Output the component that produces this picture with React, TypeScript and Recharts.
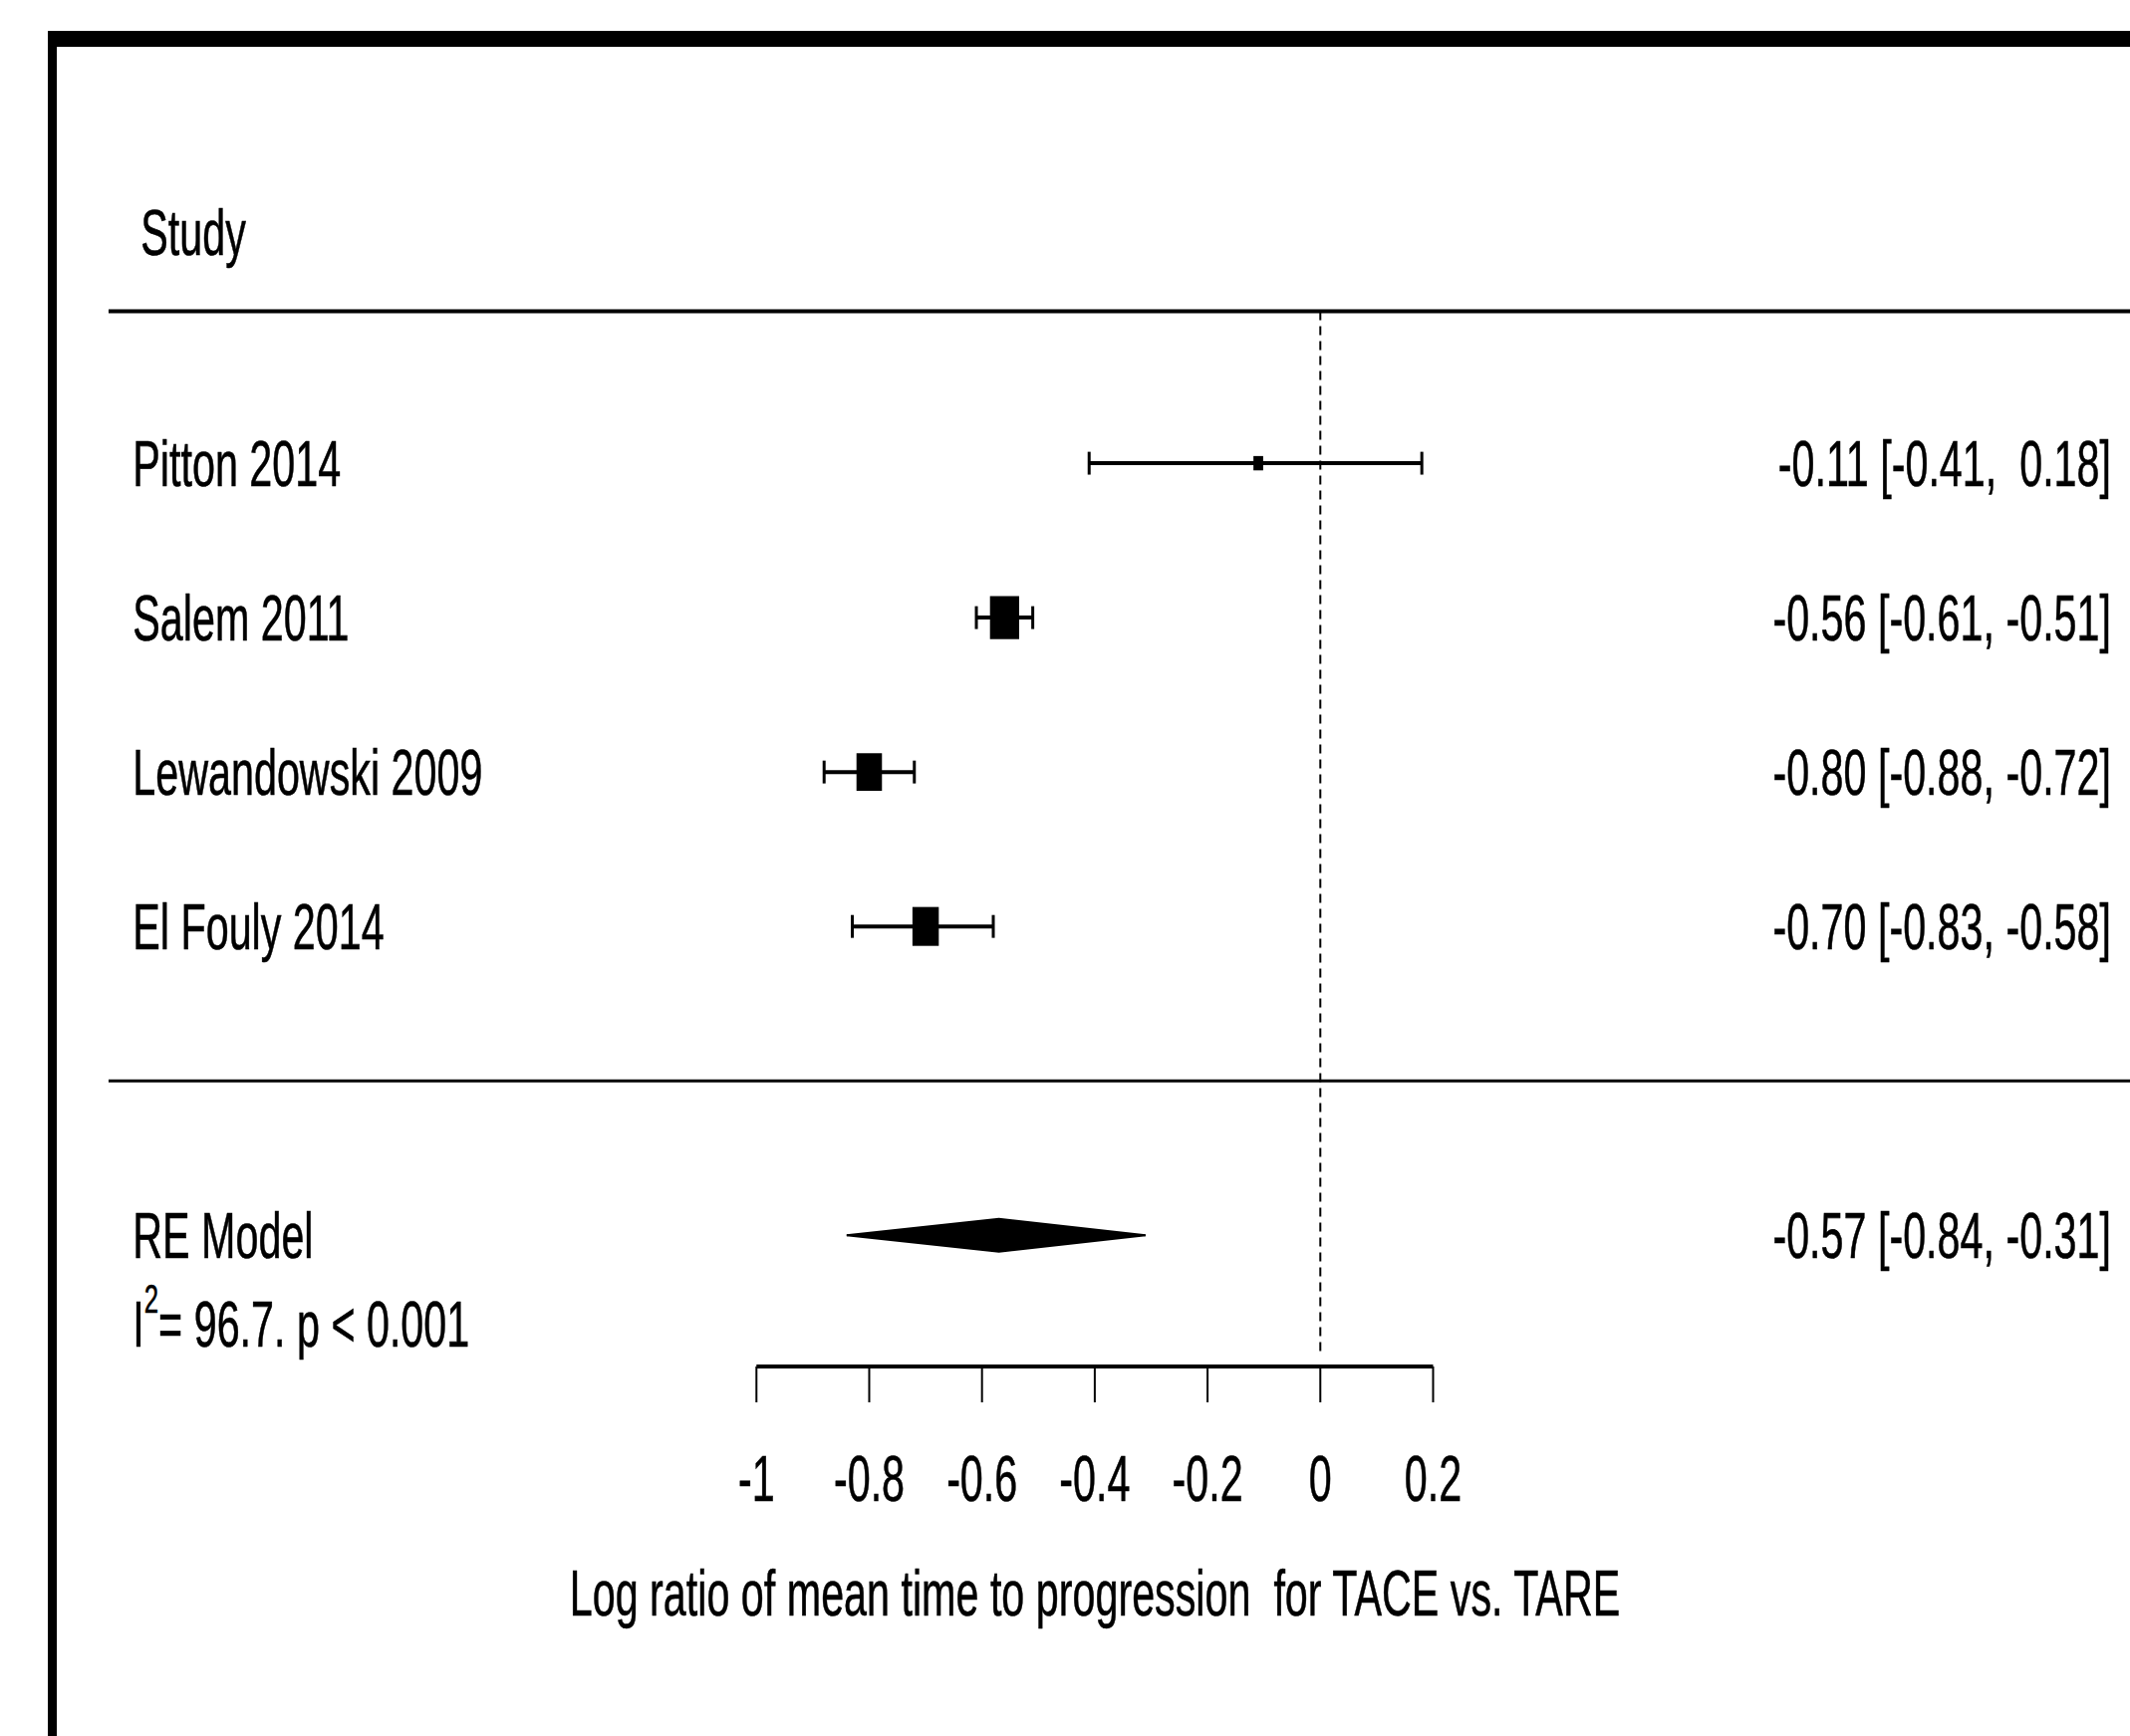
import React from 'react';
import { ComposedChart, XAxis, YAxis, Scatter, Area, ReferenceLine } from 'recharts';

// study level results (log ratio of mean TTP, TACE vs TARE)
const studies = ['Pitton 2014', 'Salem 2011', 'Lewandowski 2009', 'El Fouly 2014'];
const studyRows = [4, 3, 2, 1];
const estimates = [-0.11, -0.56, -0.8, -0.7];
const ciLower = [-0.41, -0.61, -0.88, -0.83];
const ciUpper = [0.18, -0.51, -0.72, -0.58];
const weights = [13.0, 31.0, 27.6, 28.4];

// random effects summary
const summaryLabel = 'RE Model';
const summaryRow = -1;
const summaryEstimate = -0.57;
const summaryLower = -0.84;
const summaryUpper = -0.31;
const hetI2 = '96.7';
const hetP = '< 0.001';

const headerLabel = 'Study';
const xTicks = [-1, -0.8, -0.6, -0.4, -0.2, 0, 0.2];
const xTickLabels = ['-1', '-0.8', '-0.6', '-0.4', '-0.2', '0', '0.2'];
const xTitle = 'Log ratio of mean time to progression  for TACE vs. TARE';

// layout
const W = 2138;
const H = 1743;
const X_DOMAIN: [number, number] = [-2.2355, 1.4359];
const Y_DOMAIN: [number, number] = [-1.85, 7.0];
const LABEL_X = -2.106;
const HEADER_X = -2.092;
const ANNOT_X = 1.4023;
const RULE_X = -2.149;
const HEADER_ROW = 5.5;
const HEADER_RULE = 4.985;
const HET_ROW = -1.573;
const DASH_BOTTOM = -1.785;
const CAP = 0.074;
const FONT = '"Liberation Sans", Arial, sans-serif';
const FS = 64;
const SX = 0.645;

const fmt = (v: number) => v.toFixed(2).padStart(5, ' ');
const ciText = (e: number, lo: number, hi: number) => `${fmt(e)} [${fmt(lo)}, ${fmt(hi)}]`;

const boxData = studies.map((s, i) => ({ x: estimates[i], y: studyRows[i], w: weights[i] }));

const diamondHalf = 0.106;
const diamondData = [
  { x: summaryLower, band: [summaryRow, summaryRow] },
  { x: summaryEstimate, band: [summaryRow - diamondHalf, summaryRow + diamondHalf] },
  { x: summaryUpper, band: [summaryRow, summaryRow] },
];

const labelData = [
  { x: HEADER_X, y: HEADER_ROW, text: headerLabel, anchor: 'start' },
  ...studies.map((s, i) => ({ x: LABEL_X, y: studyRows[i], text: s, anchor: 'start' })),
  { x: LABEL_X, y: summaryRow, text: summaryLabel, anchor: 'start' },
  { x: LABEL_X, y: HET_ROW, text: '', anchor: 'start', het: true },
  ...studies.map((s, i) => ({
    x: ANNOT_X,
    y: studyRows[i],
    text: ciText(estimates[i], ciLower[i], ciUpper[i]),
    anchor: 'end',
  })),
  { x: ANNOT_X, y: summaryRow, text: ciText(summaryEstimate, summaryLower, summaryUpper), anchor: 'end' },
];

const CText = ({ x, y, anchor = 'start', dy = '0.36em', children }: any) => (
  <text
    transform={`translate(${x},${y}) scale(${SX},1)`}
    textAnchor={anchor}
    dy={dy}
    fontFamily={FONT}
    fontSize={FS}
    fill="#000"
    stroke="#000"
    strokeWidth={0.6}
    style={{ whiteSpace: 'pre' }}
  >
    {children}
  </text>
);

const minW = Math.min(...weights);
const maxW = Math.max(...weights);

const renderBox = (p: any) => {
  const d = p.payload ?? p;
  const ps = 0.5 + (d.w - minW) / (maxW - minW);
  const bw = 19.5 * ps;
  const bh = 28.8 * ps;
  return <rect x={p.cx - bw / 2} y={p.cy - bh / 2} width={bw} height={bh} fill="#000" />;
};

const renderLabel = (p: any) => {
  const d = p.payload ?? p;
  if (d.het) {
    return (
      <text
        transform={`translate(${p.cx},${p.cy}) scale(${SX},1)`}
        dy="0.36em"
        fontFamily={FONT}
        fontSize={FS}
        fill="#000"
        stroke="#000"
        strokeWidth={0.6}
        style={{ whiteSpace: 'pre' }}
      >
        <tspan>I</tspan>
        <tspan fontSize={40} dy={-34}>2</tspan>
        <tspan dy={34}>{`= ${hetI2}. p ${hetP}`}</tspan>
      </text>
    );
  }
  return (
    <CText x={p.cx} y={p.cy} anchor={d.anchor}>
      {d.text}
    </CText>
  );
};

const renderTick = (p: any) => (
  <CText x={p.x} y={p.y} anchor="middle" dy="0.72em">
    {xTickLabels[xTicks.indexOf(p.payload.value)]}
  </CText>
);

const AxisTitle = (props: any) => {
  const vb = props.viewBox || { x: 0, y: 0, width: 0 };
  return (
    <CText x={vb.x + vb.width / 2} y={vb.y + 250} anchor="middle" dy="0">
      {xTitle}
    </CText>
  );
};

export default function App() {
  return (
    <div style={{ position: 'relative', width: W, height: H, overflow: 'hidden', background: '#fff' }}>
      <style>{'body{margin:0}'}</style>
      <ComposedChart width={W} height={H} margin={{ top: 0, right: 0, bottom: 0, left: 60 }}>
        <XAxis
          dataKey="x"
          type="number"
          domain={X_DOMAIN}
          ticks={xTicks}
          interval={0}
          axisLine={false}
          tickSize={36}
          tickMargin={53}
          tickLine={{ stroke: '#000', strokeWidth: 2 }}
          tick={renderTick}
          height={371}
          label={<AxisTitle />}
        />
        <YAxis dataKey="y" type="number" domain={Y_DOMAIN} hide />

        <ReferenceLine
          segment={[{ x: RULE_X, y: HEADER_RULE }, { x: X_DOMAIN[1], y: HEADER_RULE }]}
          stroke="#000"
          strokeWidth={4}
          ifOverflow="visible"
        />
        <ReferenceLine
          segment={[{ x: RULE_X, y: 0 }, { x: X_DOMAIN[1], y: 0 }]}
          stroke="#000"
          strokeWidth={3}
          ifOverflow="visible"
        />
        <ReferenceLine
          segment={[{ x: 0, y: HEADER_RULE }, { x: 0, y: DASH_BOTTOM }]}
          stroke="#000"
          strokeWidth={2}
          strokeDasharray="9 6"
          ifOverflow="visible"
        />
        <ReferenceLine
          segment={[{ x: xTicks[0], y: Y_DOMAIN[0] }, { x: xTicks[xTicks.length - 1], y: Y_DOMAIN[0] }]}
          stroke="#000"
          strokeWidth={4}
          ifOverflow="visible"
        />

        {/* confidence intervals with end caps */}
        {studies.map((s, i) => (
          <ReferenceLine
            key={`ci-${s}`}
            segment={[{ x: ciLower[i], y: studyRows[i] }, { x: ciUpper[i], y: studyRows[i] }]}
            stroke="#000"
            strokeWidth={4}
            ifOverflow="visible"
          />
        ))}
        {studies.map((s, i) =>
          [ciLower[i], ciUpper[i]].map((v, j) => (
            <ReferenceLine
              key={`cap-${s}-${j}`}
              segment={[{ x: v, y: studyRows[i] - CAP }, { x: v, y: studyRows[i] + CAP }]}
              stroke="#000"
              strokeWidth={3}
              ifOverflow="visible"
            />
          ))
        )}

        <Area
          data={diamondData}
          dataKey="band"
          type="linear"
          stroke="#000"
          strokeWidth={2}
          fill="#000"
          fillOpacity={1}
          dot={false}
          activeDot={false}
          isAnimationActive={false}
        />

        <Scatter data={boxData} fill="#000" shape={renderBox} isAnimationActive={false} />

        <Scatter data={labelData} fill="#000" shape={renderLabel} isAnimationActive={false} />
      </ComposedChart>
      <div
        style={{
          position: 'absolute',
          left: 48,
          top: 31,
          width: W,
          height: H,
          borderLeft: '9px solid #000',
          borderTop: '16px solid #000',
          boxSizing: 'border-box',
          pointerEvents: 'none',
        }}
      />
    </div>
  );
}
